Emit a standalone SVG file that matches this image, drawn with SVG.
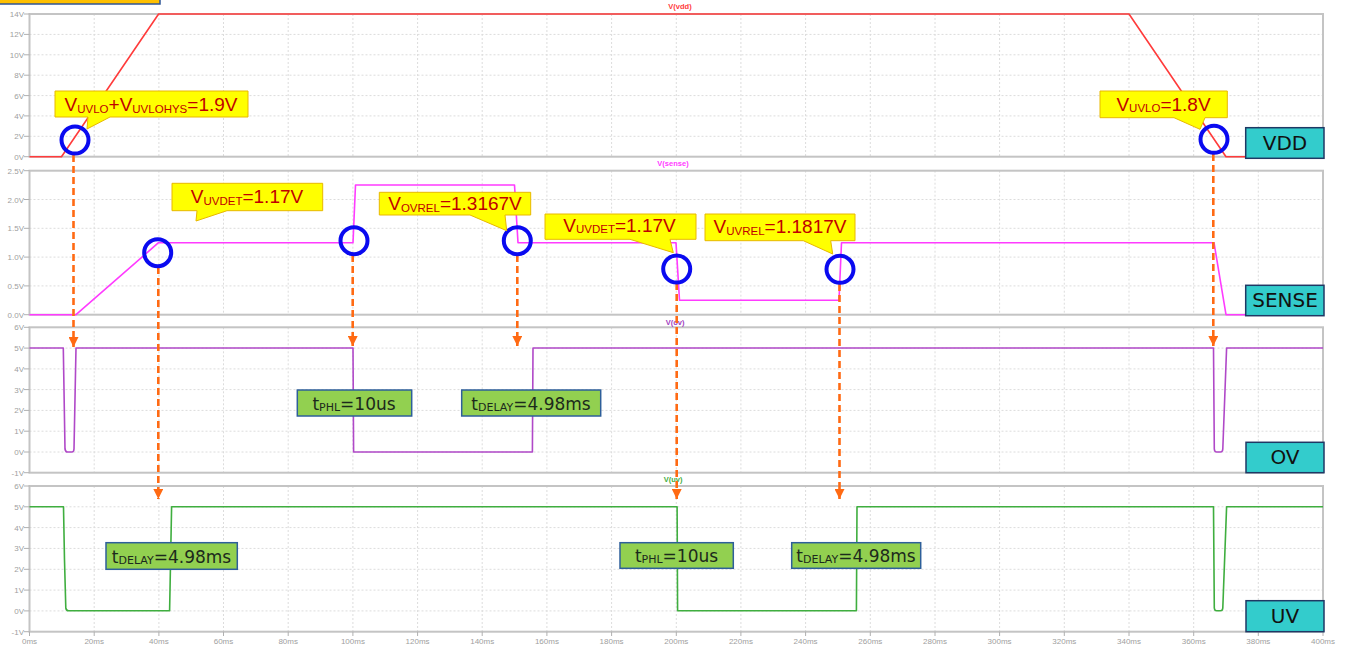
<svg xmlns="http://www.w3.org/2000/svg" width="1351" height="646" viewBox="0 0 1351 646">
<style>
.bg{fill:#ffffff}
.frame{fill:none;stroke:#c4c4c4;stroke-width:2}
.grid{fill:none;stroke:#dcdcdc;stroke-width:1;stroke-dasharray:2 2}
.tick{fill:none;stroke:#b0b0b0;stroke-width:1}
.ax{font-family:"Liberation Sans",Arial,sans-serif;font-size:8px;fill:#a0a0a0}
.ay{text-anchor:end}
.axm{text-anchor:middle}
.wl{font-family:"Liberation Sans",Arial,sans-serif;font-size:7.5px;font-weight:bold;text-anchor:middle}
.wave{fill:none;stroke-width:1.6;stroke-linejoin:round}
.ring{fill:none;stroke:#0a0af0;stroke-width:4}
.co{fill:#ffff00;stroke:#e8b800;stroke-width:1}
.cot{font-family:"Liberation Sans",Arial,sans-serif;font-size:19px;fill:#c00000;text-anchor:middle}
.sub{font-size:11.5px}
.gl{fill:#92d050;stroke:#2e5f9a;stroke-width:1.5}
.glt{font-family:"DejaVu Sans",Verdana,sans-serif;font-size:17px;fill:#1c2a1c;text-anchor:middle}
.gsub{font-size:11px}
.tl{fill:#33cccc;stroke:#1f3864;stroke-width:1.5}
.tlt{font-family:"DejaVu Sans",Verdana,sans-serif;font-size:20px;fill:#111111;text-anchor:middle}
.arr{fill:none;stroke:#ff6a13;stroke-width:2.6;stroke-dasharray:7 4}
</style>
<defs>
<marker id="ah" markerUnits="userSpaceOnUse" markerWidth="10" markerHeight="10" refX="10" refY="5" orient="auto" viewBox="0 0 10 10">
<path d="M0,0 L10,5 L0,10 Z" fill="#ff6a13"/>
</marker>
</defs>
<rect class="bg" x="0" y="0" width="1351" height="646"/>
<rect x="-2" y="-10" width="162" height="14" fill="#ffc000" stroke="#2f5597" stroke-width="1.5"/>

<g id="plot-grid">
<path class="grid" d="M94.2,14V156.7M158.9,14V156.7M223.5,14V156.7M288.2,14V156.7M352.9,14V156.7M417.6,14V156.7M482.2,14V156.7M546.9,14V156.7M611.6,14V156.7M676.3,14V156.7M740.9,14V156.7M805.6,14V156.7M870.3,14V156.7M935,14V156.7M999.6,14V156.7M1064.3,14V156.7M1129,14V156.7M1193.7,14V156.7M1258.3,14V156.7
M29.5,34.4H1323M29.5,54.8H1323M29.5,75.2H1323M29.5,95.6H1323M29.5,115.9H1323M29.5,136.3H1323"/>
<path class="grid" d="M94.2,170.7V314.7M158.9,170.7V314.7M223.5,170.7V314.7M288.2,170.7V314.7M352.9,170.7V314.7M417.6,170.7V314.7M482.2,170.7V314.7M546.9,170.7V314.7M611.6,170.7V314.7M676.3,170.7V314.7M740.9,170.7V314.7M805.6,170.7V314.7M870.3,170.7V314.7M935,170.7V314.7M999.6,170.7V314.7M1064.3,170.7V314.7M1129,170.7V314.7M1193.7,170.7V314.7M1258.3,170.7V314.7
M29.5,199.5H1323M29.5,228.3H1323M29.5,257.1H1323M29.5,285.9H1323"/>
<path class="grid" d="M94.2,327.3V472.7M158.9,327.3V472.7M223.5,327.3V472.7M288.2,327.3V472.7M352.9,327.3V472.7M417.6,327.3V472.7M482.2,327.3V472.7M546.9,327.3V472.7M611.6,327.3V472.7M676.3,327.3V472.7M740.9,327.3V472.7M805.6,327.3V472.7M870.3,327.3V472.7M935,327.3V472.7M999.6,327.3V472.7M1064.3,327.3V472.7M1129,327.3V472.7M1193.7,327.3V472.7M1258.3,327.3V472.7
M29.5,348.1H1323M29.5,368.9H1323M29.5,389.6H1323M29.5,410.4H1323M29.5,431.2H1323M29.5,452H1323"/>
<path class="grid" d="M94.2,486V631.7M158.9,486V631.7M223.5,486V631.7M288.2,486V631.7M352.9,486V631.7M417.6,486V631.7M482.2,486V631.7M546.9,486V631.7M611.6,486V631.7M676.3,486V631.7M740.9,486V631.7M805.6,486V631.7M870.3,486V631.7M935,486V631.7M999.6,486V631.7M1064.3,486V631.7M1129,486V631.7M1193.7,486V631.7M1258.3,486V631.7
M29.5,506.8H1323M29.5,527.6H1323M29.5,548.4H1323M29.5,569.3H1323M29.5,590.1H1323M29.5,610.9H1323"/>
<rect class="frame" x="29.5" y="14" width="1293.5" height="142.7"/>
<rect class="frame" x="29.5" y="170.7" width="1293.5" height="144"/>
<rect class="frame" x="29.5" y="327.3" width="1293.5" height="145.4"/>
<rect class="frame" x="29.5" y="486" width="1293.5" height="145.7"/>
<path class="tick" d="M24,14H29.5M24,34.4H29.5M24,54.8H29.5M24,75.2H29.5M24,95.6H29.5M24,115.9H29.5M24,136.3H29.5M24,156.7H29.5
M24,170.7H29.5M24,199.5H29.5M24,228.3H29.5M24,257.1H29.5M24,285.9H29.5M24,314.7H29.5
M24,327.3H29.5M24,348.1H29.5M24,368.9H29.5M24,389.6H29.5M24,410.4H29.5M24,431.2H29.5M24,452H29.5M24,472.7H29.5
M24,486H29.5M24,506.8H29.5M24,527.6H29.5M24,548.4H29.5M24,569.3H29.5M24,590.1H29.5M24,610.9H29.5M24,631.7H29.5
M29.5,631.7V636M94.2,631.7V636M158.9,631.7V636M223.5,631.7V636M288.2,631.7V636M352.9,631.7V636M417.6,631.7V636M482.2,631.7V636M546.9,631.7V636M611.6,631.7V636M676.3,631.7V636M740.9,631.7V636M805.6,631.7V636M870.3,631.7V636M935,631.7V636M999.6,631.7V636M1064.3,631.7V636M1129,631.7V636M1193.7,631.7V636M1258.3,631.7V636M1323,631.7V636"/>
</g>

<g id="y-axis-labels" class="ax ay">
<text x="24" y="17">14V</text><text x="24" y="37.4">12V</text><text x="24" y="57.8">10V</text><text x="24" y="78.2">8V</text><text x="24" y="98.6">6V</text><text x="24" y="118.9">4V</text><text x="24" y="139.3">2V</text><text x="24" y="159.7">0V</text>
<text x="24" y="173.7">2.5V</text><text x="24" y="202.5">2.0V</text><text x="24" y="231.3">1.5V</text><text x="24" y="260.1">1.0V</text><text x="24" y="288.9">0.5V</text><text x="24" y="317.7">0.0V</text>
<text x="24" y="330.3">6V</text><text x="24" y="351.1">5V</text><text x="24" y="371.9">4V</text><text x="24" y="392.6">3V</text><text x="24" y="413.4">2V</text><text x="24" y="434.2">1V</text><text x="24" y="455">0V</text><text x="24" y="475.7">-1V</text>
<text x="24" y="489">6V</text><text x="24" y="509.8">5V</text><text x="24" y="530.6">4V</text><text x="24" y="551.4">3V</text><text x="24" y="572.3">2V</text><text x="24" y="593.1">1V</text><text x="24" y="613.9">0V</text><text x="24" y="634.7">-1V</text>
</g>
<g id="x-axis-labels" class="ax axm">
<text x="29.5" y="644">0ms</text><text x="94.2" y="644">20ms</text><text x="158.9" y="644">40ms</text><text x="223.5" y="644">60ms</text><text x="288.2" y="644">80ms</text><text x="352.9" y="644">100ms</text><text x="417.6" y="644">120ms</text><text x="482.2" y="644">140ms</text><text x="546.9" y="644">160ms</text><text x="611.6" y="644">180ms</text><text x="676.3" y="644">200ms</text><text x="740.9" y="644">220ms</text><text x="805.6" y="644">240ms</text><text x="870.3" y="644">260ms</text><text x="935" y="644">280ms</text><text x="999.6" y="644">300ms</text><text x="1064.3" y="644">320ms</text><text x="1129" y="644">340ms</text><text x="1193.7" y="644">360ms</text><text x="1258.3" y="644">380ms</text><text x="1323" y="644">400ms</text>
</g>

<g id="waveforms">
<path class="wave" stroke="#ff3b3b" d="M29.5,156.7 L61.5,156.7 L158.6,14 L1129,14 L1226,156.7 L1323,156.7"/>
<path class="wave" stroke="#ff3bff" d="M29.5,314.7 L76,314.7 L158.5,242.7 L353,242.7 L355.5,185 L514.5,185 L518,242.7 L676,242.7 L679.5,300.3 L839,300.3 L841.5,242.7 L1214,242.7 L1226,314.7 L1323,314.7"/>
<path class="wave" stroke="#b048c8" d="M29.5,348 L63.3,348 L65,449 Q65.5,452 67.5,452 L72,452 Q73.8,452 74,449 L76,348 L353,348 L353.6,452 L532.4,452 L533,348 L1213.5,348 L1214.3,449 Q1214.6,452 1216.5,452 L1220.5,452 Q1222.6,452 1222.8,449 L1226.6,348 L1323,348"/>
<path class="wave" stroke="#3fae3f" d="M29.5,506.8 L63.5,506.8 L64.5,560 L65.8,608 Q66.3,610.8 68.5,610.8 L169.6,610.8 L170,590 L171.6,506.8 L677.1,506.8 L677.6,610.8 L856.4,610.8 L857,506.8 L1213.5,506.8 L1214.3,608 Q1214.6,610.8 1216.5,610.8 L1220.5,610.8 Q1222.6,610.8 1222.8,608 L1226.6,506.8 L1323,506.8"/>
<text class="wl" x="680" y="9" fill="#ff3b3b">V(vdd)</text>
<text class="wl" x="673" y="166" fill="#ff3bff">V(sense)</text>
<text class="wl" x="675" y="325" fill="#a040c0">V(ov)</text>
<text class="wl" x="673" y="482" fill="#3fae3f">V(uv)</text>
</g>

<g id="connectors">
<line class="arr" x1="73.5" y1="155" x2="73.5" y2="347" marker-end="url(#ah)"/>
<line class="arr" x1="158.3" y1="267" x2="158.3" y2="499" marker-end="url(#ah)"/>
<line class="arr" x1="352.7" y1="255" x2="352.7" y2="346" marker-end="url(#ah)"/>
<line class="arr" x1="517.3" y1="255" x2="517.3" y2="346" marker-end="url(#ah)"/>
<line class="arr" x1="676.7" y1="283" x2="676.7" y2="499" marker-end="url(#ah)"/>
<line class="arr" x1="839.5" y1="284" x2="839.5" y2="499" marker-end="url(#ah)"/>
<line class="arr" x1="1213.3" y1="154" x2="1213.3" y2="346" marker-end="url(#ah)"/>
</g>

<g id="markers-rings">
<circle class="ring" cx="75" cy="140" r="13.5"/>
<circle class="ring" cx="157.7" cy="252.7" r="13.5"/>
<circle class="ring" cx="354" cy="240.7" r="13.5"/>
<circle class="ring" cx="517.3" cy="240.7" r="13.5"/>
<circle class="ring" cx="676.7" cy="269" r="13.5"/>
<circle class="ring" cx="840" cy="269.3" r="13.5"/>
<circle class="ring" cx="1214" cy="139.3" r="13.5"/>
</g>

<g id="callout-uvlo-hys">
<path class="co" d="M55,91 H248 V117 H110 L87,129 L88,117 H55 Z"/>
<text class="cot" x="151" y="111">V<tspan class="sub" dy="1.5">UVLO</tspan><tspan dy="-1.5">+V</tspan><tspan class="sub" dy="1.5">UVLOHYS</tspan><tspan dy="-1.5">=1.9V</tspan></text>
</g>
<g id="callout-uvdet-1">
<path class="co" d="M172,183.3 H322.7 V210.7 H227 L196,221 L197,210.7 H172 Z"/>
<text class="cot" x="247" y="203">V<tspan class="sub" dy="1.5">UVDET</tspan><tspan dy="-1.5">=1.17V</tspan></text>
</g>
<g id="callout-ovrel">
<path class="co" d="M379.3,192.3 H530.7 V215 H505 L506.7,230.7 L470,215 H379.3 Z"/>
<text class="cot" x="455" y="210">V<tspan class="sub" dy="1.5">OVREL</tspan><tspan dy="-1.5">=1.3167V</tspan></text>
</g>
<g id="callout-uvdet-2">
<path class="co" d="M545,214 H696 V239.3 H670 L673.3,252.7 L630,239.3 H545 Z"/>
<text class="cot" x="619.5" y="231.5">V<tspan class="sub" dy="1.5">UVDET</tspan><tspan dy="-1.5">=1.17V</tspan></text>
</g>
<g id="callout-uvrel">
<path class="co" d="M705,214 H855 V240.7 H830.7 L832.7,254 L803.3,240.7 H705 Z"/>
<text class="cot" x="780" y="233">V<tspan class="sub" dy="1.5">UVREL</tspan><tspan dy="-1.5">=1.1817V</tspan></text>
</g>
<g id="callout-uvlo">
<path class="co" d="M1100,91 H1227.3 V117.7 H1205 L1200,129.3 L1174,117.7 H1100 Z"/>
<text class="cot" x="1163.5" y="110.5">V<tspan class="sub" dy="1.5">UVLO</tspan><tspan dy="-1.5">=1.8V</tspan></text>
</g>

<g id="label-ov-tphl">
<rect class="gl" x="297.3" y="390" width="114.4" height="26"/>
<text class="glt" x="354" y="409.5">t<tspan class="gsub" dy="1">PHL</tspan><tspan dy="-1">=10us</tspan></text>
</g>
<g id="label-ov-tdelay">
<rect class="gl" x="461.7" y="390" width="139" height="26"/>
<text class="glt" x="531" y="409.5">t<tspan class="gsub" dy="1">DELAY</tspan><tspan dy="-1">=4.98ms</tspan></text>
</g>
<g id="label-uv-tdelay-1">
<rect class="gl" x="106" y="542.7" width="131.3" height="26.6"/>
<text class="glt" x="171.5" y="562.5">t<tspan class="gsub" dy="1">DELAY</tspan><tspan dy="-1">=4.98ms</tspan></text>
</g>
<g id="label-uv-tphl">
<rect class="gl" x="620" y="542.7" width="113.3" height="25.6"/>
<text class="glt" x="676.5" y="562">t<tspan class="gsub" dy="1">PHL</tspan><tspan dy="-1">=10us</tspan></text>
</g>
<g id="label-uv-tdelay-2">
<rect class="gl" x="791.7" y="542.7" width="129" height="25.6"/>
<text class="glt" x="856" y="562">t<tspan class="gsub" dy="1">DELAY</tspan><tspan dy="-1">=4.98ms</tspan></text>
</g>

<g id="tag-vdd">
<rect class="tl" x="1245.7" y="127.7" width="78.3" height="30.6"/>
<text class="tlt" x="1285" y="149.5">VDD</text>
</g>
<g id="tag-sense">
<rect class="tl" x="1245.7" y="285.3" width="78.3" height="30.4"/>
<text class="tlt" x="1285" y="307">SENSE</text>
</g>
<g id="tag-ov">
<rect class="tl" x="1246" y="442.3" width="78" height="30.4"/>
<text class="tlt" x="1285" y="464">OV</text>
</g>
<g id="tag-uv">
<rect class="tl" x="1246" y="600.7" width="78" height="31"/>
<text class="tlt" x="1285" y="622.5">UV</text>
</g>
</svg>
